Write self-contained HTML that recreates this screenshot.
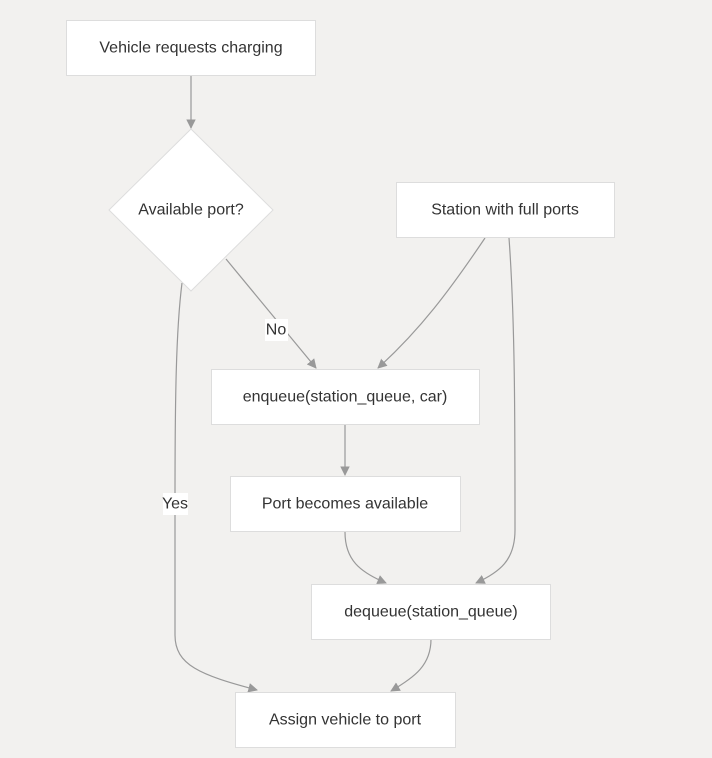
<!DOCTYPE html>
<html><head><style>
html,body{margin:0;padding:0;background:#f2f1ef;}
svg{display:block;font-family:"Liberation Sans","DejaVu Sans",sans-serif;}
</style></head><body>
<svg width="712" height="758" viewBox="0 0 712 758" xmlns="http://www.w3.org/2000/svg">
<defs><marker id="a" viewBox="0 0 10 10" refX="9" refY="5" markerWidth="8" markerHeight="8" orient="auto"><path d="M0,0 L10,5 L0,10 z" fill="#999"/></marker></defs>
<rect width="712" height="758" fill="#f2f1ef"/>
<g fill="none" stroke="#999" stroke-width="1.2">
<path d="M191,75 L191,128" marker-end="url(#a)"/>
<path d="M226,259 L316,368" marker-end="url(#a)"/>
<path d="M182,283 C176,330 175,400 175,500 L175,635 C175,665 200,675 257,690" marker-end="url(#a)"/>
<path d="M485,238 C450,290 420,330 378,368" marker-end="url(#a)"/>
<path d="M509,238 C515,320 515,420 515,530 C515,560 500,572 476,583" marker-end="url(#a)"/>
<path d="M345,424 L345,475" marker-end="url(#a)"/>
<path d="M345,532 C345,560 360,572 386,583" marker-end="url(#a)"/>
<path d="M431,639 C431,665 415,677 391,691" marker-end="url(#a)"/>
</g>
<g fill="#fff" stroke="#ddd" stroke-width="1">
<rect x="66.5" y="20.5" width="249" height="55"/>
<polygon points="191,129 273,210 191,291 109,210"/>
<rect x="396.5" y="182.5" width="218" height="55"/>
<rect x="211.5" y="369.5" width="268" height="55"/>
<rect x="230.5" y="476.5" width="230" height="55"/>
<rect x="311.5" y="584.5" width="239" height="55"/>
<rect x="235.5" y="692.5" width="220" height="55"/>
</g>
<rect x="265" y="319" width="23" height="22" fill="#fff"/>
<rect x="163" y="493" width="25" height="22" fill="#fff"/>
<g fill="#333" font-size="16" text-anchor="middle" dominant-baseline="central">
<text x="191" y="48">Vehicle requests charging</text>
<text x="191" y="210">Available port?</text>
<text x="505" y="210">Station with full ports</text>
<text x="345" y="397">enqueue(station_queue, car)</text>
<text x="345" y="504">Port becomes available</text>
<text x="431" y="612">dequeue(station_queue)</text>
<text x="345" y="720">Assign vehicle to port</text>
<text x="276" y="330">No</text>
<text x="175" y="504">Yes</text>
</g>
</svg>
</body></html>
